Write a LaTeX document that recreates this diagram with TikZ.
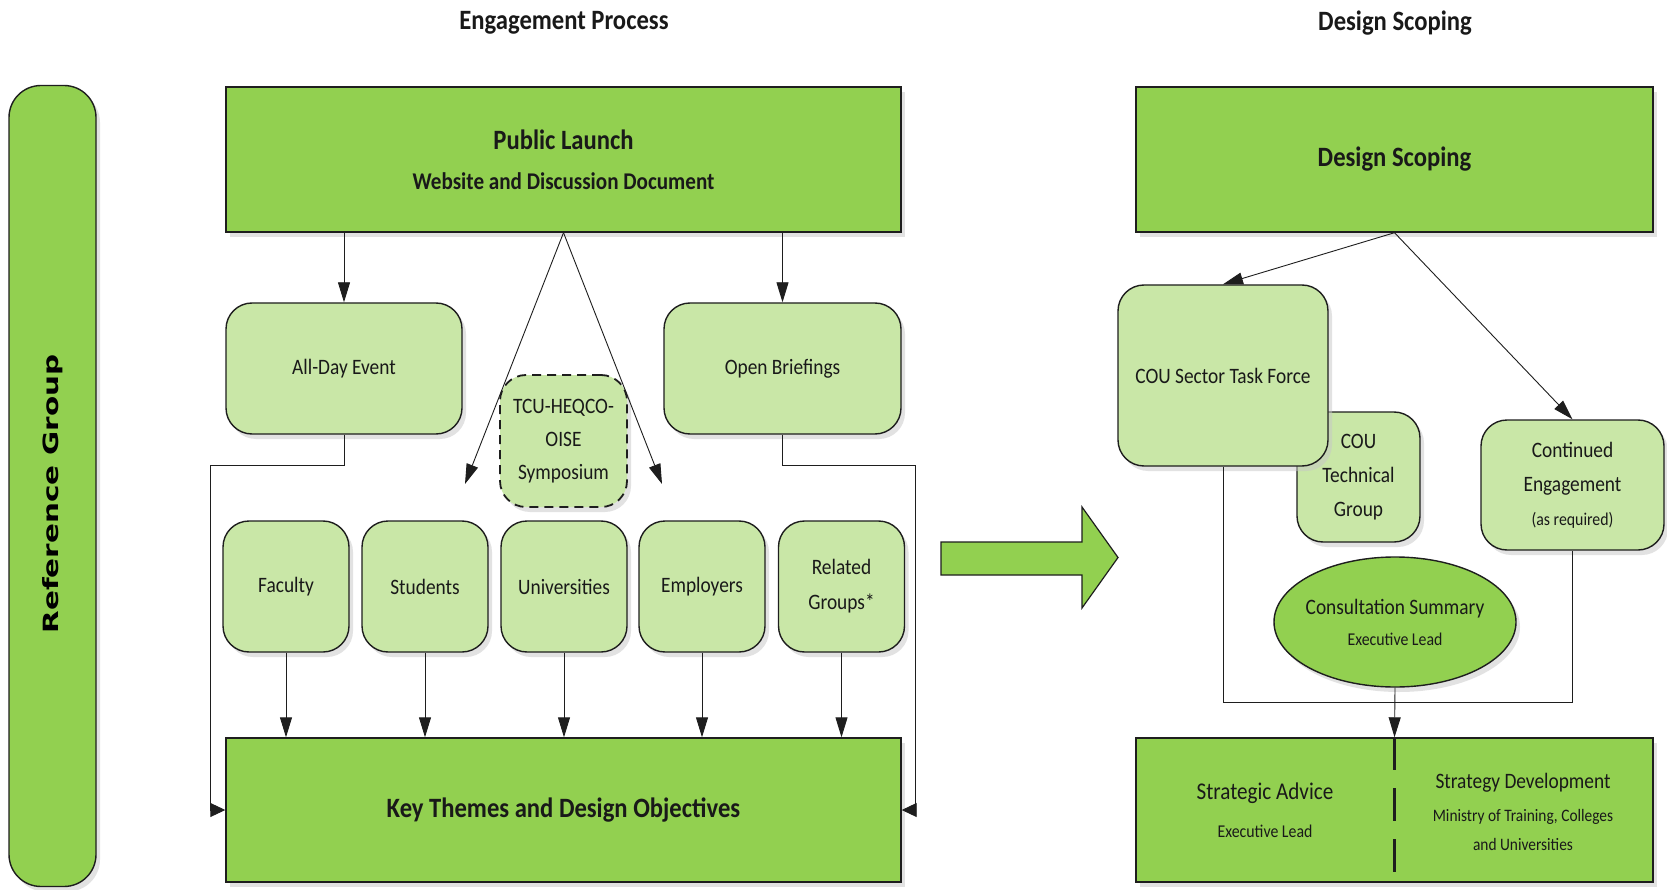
\documentclass[tikz,border=0pt]{standalone}
\usepackage{fontspec}
\setmainfont[FakeStretch=0.88]{Carlito}
\newfontfamily\rgfont[FakeStretch=1.4]{DejaVu Sans}
\usetikzlibrary{shadows,arrows.meta,shapes.geometric}
\definecolor{dkgreen}{RGB}{146,208,80}
\definecolor{ltgreen}{RGB}{201,231,167}
\definecolor{edge}{RGB}{30,30,30}
\newcommand{\fs}[2]{\fontsize{#1}{#2}\selectfont}
\tikzset{
  shd/.style={drop shadow={shadow xshift=4pt,shadow yshift=-5pt,fill=black!22}},
  dkbox/.style={draw=edge, line width=1.4pt, fill=dkgreen, shd, align=center, inner sep=0pt, text=black!90},
  ltbox/.style={draw=edge, line width=1.4pt, fill=ltgreen, rounded corners=26pt, shd, align=center, inner sep=0pt, text=black!90, font=\fs{22}{33}},
  conn/.style={draw=edge, line width=0.9pt, -{Triangle[length=20pt,width=12pt]}},
  hconn/.style={draw=edge, line width=0.9pt, -{Triangle[length=15pt,width=14pt]}},
  plainline/.style={draw=edge, line width=0.9pt},
  ttl/.style={font=\bfseries\fs{28}{34}, text=black!90},
}
\begin{document}
\begin{tikzpicture}[x=1pt,y=-1pt]
\useasboundingbox (0,0) rectangle (1667,890);
\fill[white] (0,0) rectangle (1667,890);

% titles
\node[ttl] (t1) at (564,23) {Engagement Process};
\node[ttl] (t2) at (1395,23) {Design Scoping};

% reference group
\node[dkbox, rounded corners=32pt, minimum width=87pt, minimum height=801pt] (rg) at (52.5,486) {};
\node[rotate=90, font=\rgfont\bfseries\fs{21}{24}] (rgt) at (52.5,494) {Reference Group};

% left column
\node[dkbox, minimum width=675pt, minimum height=145pt, font=\bfseries\fs{28}{40}] (pl) at (563.5,159.5)
  {Public Launch\\\fs{24}{40}Website and Discussion Document};
\node[ltbox, minimum width=236pt, minimum height=131pt] (ade) at (344,368.5) {All-Day Event};
\node[ltbox, minimum width=237pt, minimum height=131pt] (ob) at (782.5,368.5) {Open Briefings};
\node[ltbox, dashed, dash pattern=on 9pt off 6pt, line width=1.8pt, minimum width=127pt, minimum height=132pt] (tcu) at (563.5,441) {TCU-HEQCO-\\OISE\\Symposium};

\node[ltbox, minimum width=126pt, minimum height=131pt] (fac) at (286,586.5) {Faculty};
\node[ltbox, minimum width=126pt, minimum height=131pt] (stu) at (425,586.5) {Students};
\node[ltbox, minimum width=126pt, minimum height=131pt] (uni) at (564,586.5) {Universities};
\node[ltbox, minimum width=126pt, minimum height=131pt] (emp) at (702,586.5) {Employers};
\node[ltbox, font=\fs{22}{35}, minimum width=126pt, minimum height=131pt] (rel) at (841.5,586.5) {Related\\Groups*};

\node[dkbox, minimum width=675pt, minimum height=144pt, font=\bfseries\fs{28}{34}] (kt) at (563.5,810) {Key Themes and Design Objectives};

% left connectors
\coordinate (dl) at (465,484);
\coordinate (dr) at (662,484);
\coordinate (lb) at (210,465);
\coordinate (rb) at (915,465);
\draw[conn] (pl.south -| ade.south) -- (ade.north);
\draw[conn] (pl.south -| ob.south) -- (ob.north);
\draw[conn] (pl.south) -- (dl);
\draw[conn] (pl.south) -- (dr);
\draw[hconn] (ade.south) |- (lb) |- (kt.west);
\draw[hconn] (ob.south) |- (rb) |- (kt.east);
\foreach \n in {fac,stu,uni,emp,rel}{
  \draw[conn] (\n.south) -- (\n.south |- kt.north);
}

% big arrow
\draw[draw=edge, line width=1.2pt, fill=dkgreen] (941,542) -- (1082,542) -- (1082,507) -- (1118,557.5) -- (1082,608) -- (1082,575) -- (941,575) -- cycle;

% right column
\node[dkbox, minimum width=517pt, minimum height=145pt, font=\bfseries\fs{28}{34}] (ds) at (1394.5,159.5) {Design Scoping};
\node[ltbox, font=\fs{22}{34}, minimum width=123pt, minimum height=130pt] (ctg) at (1358.5,477) {COU\\Technical\\Group};
\node[ltbox, minimum width=210pt, minimum height=181pt] (ctf) at (1223,375.5) {COU Sector Task Force};
\node[ltbox, font=\fs{22}{34}, minimum width=183pt, minimum height=130pt] (ce) at (1572.5,485) {Continued\\Engagement\\\fs{18}{32}(as required)};
\node[dkbox, ellipse, inner xsep=-16pt, inner ysep=0pt, minimum width=242pt, minimum height=130pt, font=\fs{22}{31}] (cs) at (1395,622)
  {Consultation Summary\\\fs{18}{31}Executive Lead};
\node[dkbox, minimum width=517pt, minimum height=144pt] (sa) at (1394.5,810) {};
\node[align=center, text=black!90, font=\fs{24}{38}] (sat) at (1265,810)
  {Strategic Advice\\\fs{18}{38}Executive Lead};
\node[align=center, text=black!90, font=\fs{22}{33}] (sdt) at (1523,812)
  {Strategy Development\\\fs{17.5}{33}Ministry of Training, Colleges\\[-4pt]\fs{17.5}{33}and Universities};

% right connectors
\coordinate (bar) at (0,702);
\draw[conn] (ds.south) -- (ctf.north);
\draw[conn] (ds.south) -- (ce.north);
\draw[plainline] (ctf.south) |- (bar -| ce.south) -- (ce.south);
\draw[conn] (cs.south) -- (sa.north);
\draw[draw=edge, line width=2.6pt, dash pattern=on 33pt off 18pt] (sa.north) -- (sa.south);
\end{tikzpicture}
\end{document}
